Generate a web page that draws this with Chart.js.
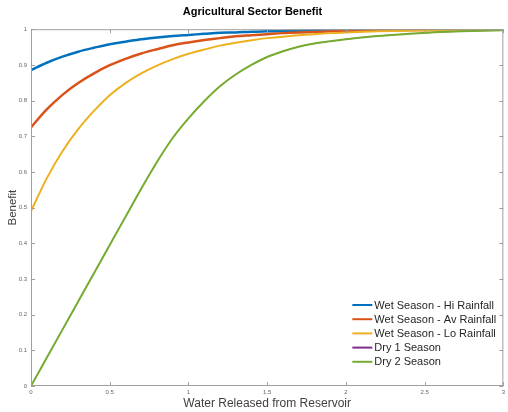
<!DOCTYPE html>
<html lang="en">
<head>
<meta charset="UTF-8">
<title>Agricultural Sector Benefit</title>
<script src="https://cdn.jsdelivr.net/npm/chart.js"></script>
<style>
  html, body { margin: 0; padding: 0; background: #fff; }
  #wrap { position: relative; width: 508px; height: 412px; }
</style>
</head>
<body>
<div id="wrap"><canvas id="benefitChart" width="508" height="412"></canvas></div>
<script>
// water released (x) shared by all series
const waterReleased = [0, 0.1, 0.2, 0.3, 0.4, 0.5, 0.6, 0.7, 0.8, 0.9, 1.0, 1.1, 1.2, 1.3, 1.4, 1.5,
                       1.6, 1.7, 1.8, 1.9, 2.0, 2.2, 2.4, 2.6, 2.8, 3.0];

const wetHi = [0.885, 0.906, 0.923, 0.937, 0.948, 0.958, 0.965, 0.972, 0.977, 0.981, 0.984, 0.987, 0.990,
               0.991, 0.993, 0.994, 0.995, 0.996, 0.997, 0.997, 0.998, 0.999, 0.999, 0.999, 1.0, 1.0];
const wetAv = [0.725, 0.775, 0.816, 0.849, 0.876, 0.899, 0.917, 0.932, 0.944, 0.955, 0.963, 0.970, 0.975,
               0.980, 0.983, 0.986, 0.989, 0.991, 0.992, 0.994, 0.995, 0.997, 0.998, 0.998, 0.999, 0.999];
const wetLo = [0.490, 0.582, 0.658, 0.720, 0.771, 0.815, 0.849, 0.876, 0.898, 0.916, 0.931, 0.943, 0.954,
               0.962, 0.969, 0.975, 0.979, 0.983, 0.986, 0.989, 0.991, 0.994, 0.996, 0.997, 0.998, 0.999];
// dry 1 sits exactly under dry 2 in the picture
const dry1 = [0, 0.079, 0.158, 0.237, 0.316, 0.395, 0.474, 0.553, 0.628, 0.695, 0.750, 0.798, 0.840,
              0.873, 0.900, 0.922, 0.938, 0.951, 0.960, 0.966, 0.972, 0.981, 0.987, 0.992, 0.995, 0.997];
const dry2 = [0, 0.079, 0.158, 0.237, 0.316, 0.395, 0.474, 0.553, 0.628, 0.695, 0.750, 0.798, 0.840,
              0.873, 0.900, 0.922, 0.938, 0.951, 0.960, 0.966, 0.972, 0.981, 0.987, 0.992, 0.995, 0.997];

const seriesNames = ["Wet Season - Hi Rainfall", "Wet Season - Av Rainfall", "Wet Season - Lo Rainfall",
                     "Dry 1 Season", "Dry 2 Season"];
const seriesValues = [wetHi, wetAv, wetLo, dry1, dry2];
const seriesColors = ["#0072BD", "#D95319", "#EDB120", "#7E2F8E", "#77AC30"];
const seriesWidths = [2.5, 2.5, 2, 1, 2];

const xTicks = [0, 0.5, 1, 1.5, 2, 2.5, 3];
const yTicks = [0, 0.1, 0.2, 0.3, 0.4, 0.5, 0.6, 0.7, 0.8, 0.9, 1];

const FONT = "'Liberation Sans', Arial, sans-serif";

// matlab style box with inward tick marks
const boxPlugin = {
  id: 'box',
  afterDatasetsDraw(chart) {
    const { ctx, chartArea: a, scales } = chart;
    ctx.save();
    ctx.strokeStyle = '#a0a0a0';
    ctx.lineWidth = 1;
    ctx.strokeRect(a.left + 0.5, a.top + 0.5, a.right - a.left - 1, a.bottom - a.top - 1);
    ctx.beginPath();
    xTicks.forEach(v => {
      const px = Math.round(scales.x.getPixelForValue(v)) + 0.5;
      ctx.moveTo(px, a.bottom); ctx.lineTo(px, a.bottom - 4);
      ctx.moveTo(px, a.top); ctx.lineTo(px, a.top + 4);
    });
    yTicks.forEach(v => {
      const py = Math.round(scales.y.getPixelForValue(v)) + 0.5;
      ctx.moveTo(a.left, py); ctx.lineTo(a.left + 4, py);
      ctx.moveTo(a.right, py); ctx.lineTo(a.right - 4, py);
    });
    ctx.stroke();
    ctx.restore();
  },
  afterDraw(chart) {
    // legend inside the lower right of the plot, no frame
    const { ctx, chartArea: a } = chart;
    ctx.save();
    ctx.font = '11px ' + FONT;
    ctx.textBaseline = 'middle';
    ctx.fillStyle = '#262626';
    const x0 = a.right - 151;
    seriesNames.forEach((name, i) => {
      const y = a.bottom - 81 + i * 14.2;
      ctx.strokeStyle = seriesColors[i];
      ctx.lineWidth = 2;
      ctx.beginPath();
      ctx.moveTo(x0, y); ctx.lineTo(x0 + 20, y);
      ctx.stroke();
      ctx.fillText(name, x0 + 22, y + 0.5);
    });
    ctx.restore();
  }
};

new Chart(document.getElementById('benefitChart'), {
  type: 'line',
  data: {
    labels: waterReleased,
    datasets: seriesNames.map((name, i) => ({
      label: name,
      data: seriesValues[i],
      borderColor: seriesColors[i],
      borderWidth: seriesWidths[i],
      pointRadius: 0,
      cubicInterpolationMode: 'monotone',
      fill: false,
      order: seriesNames.length - i
    }))
  },
  options: {
    responsive: false,
    animation: false,
    layout: { padding: { left: 0, right: 3, top: 0, bottom: 0 } },
    plugins: {
      legend: { display: false },
      tooltip: { enabled: false },
      title: {
        display: true,
        text: 'Agricultural Sector Benefit',
        color: '#000',
        font: { family: FONT, size: 11, weight: 'bold' },
        padding: { top: 5, bottom: 11 }
      }
    },
    scales: {
      x: {
        type: 'linear',
        min: 0, max: 3,
        afterBuildTicks: s => { s.ticks = xTicks.map(v => ({ value: v })); },
        afterFit: s => { s.height = 26; },
        grid: { display: false, drawTicks: false },
        border: { display: false },
        ticks: {
          padding: 3,
          color: '#666',
          font: { family: FONT, size: 6 },
          maxRotation: 0,
          callback: v => String(v)
        },
        title: {
          display: true,
          text: 'Water Released from Reservoir',
          color: '#404040',
          font: { family: FONT, size: 12 },
          padding: { top: 0, bottom: 1 }
        }
      },
      y: {
        min: 0, max: 1,
        afterBuildTicks: s => { s.ticks = yTicks.map(v => ({ value: v })); },
        afterFit: s => { s.width = 31; },
        grid: { display: false, drawTicks: false },
        border: { display: false },
        ticks: {
          padding: 4,
          color: '#666',
          font: { family: FONT, size: 6 },
          callback: v => String(Math.round(v * 10) / 10)
        },
        title: {
          display: true,
          text: 'Benefit',
          color: '#404040',
          font: { family: FONT, size: 11.5 },
          padding: { top: 6, bottom: 0 }
        }
      }
    }
  },
  plugins: [boxPlugin]
});
</script>
</body>
</html>
